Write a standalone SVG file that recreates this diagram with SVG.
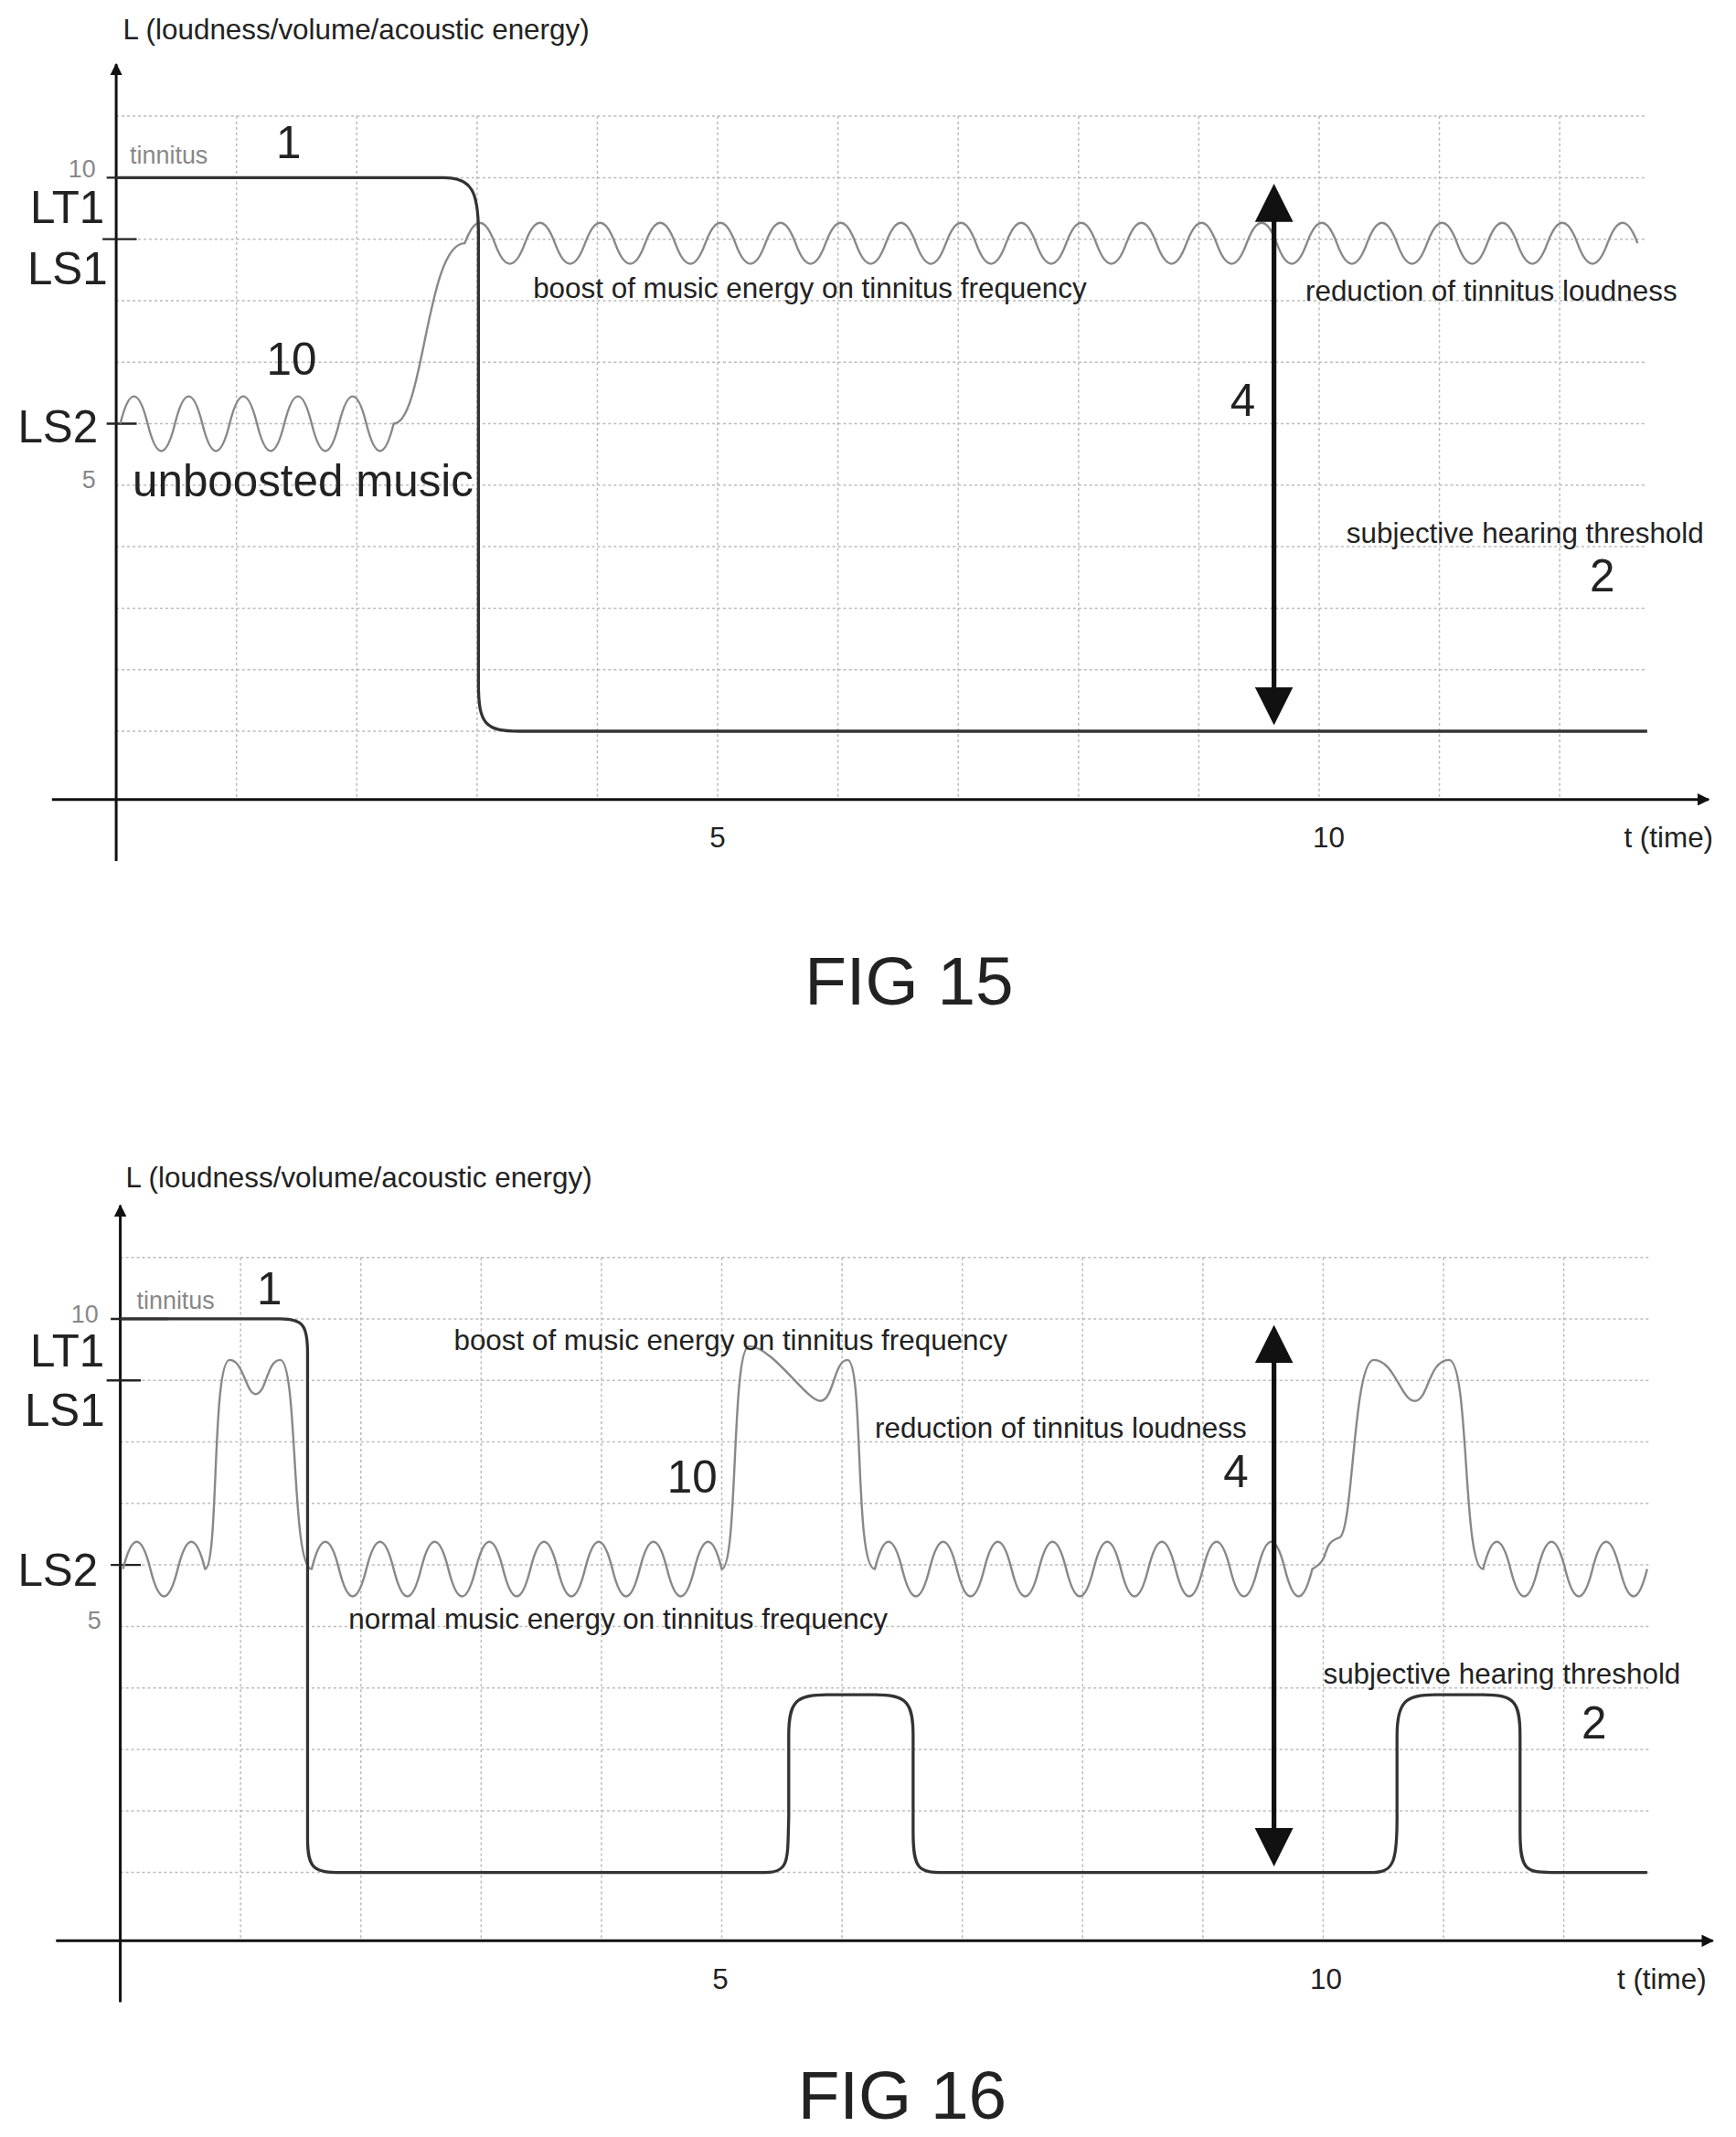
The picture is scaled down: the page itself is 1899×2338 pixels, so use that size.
<svg xmlns="http://www.w3.org/2000/svg" xmlns:xlink="http://www.w3.org/1999/xlink" width="1899" height="2338" viewBox="0 0 1899 2338">
<style>
text{font-family:"Liberation Sans",Arial,sans-serif;fill:#222}
.sm{font-size:21px}
.md{font-size:33px}
.lg{font-size:33px}
.gr{fill:#888;font-size:18px}
.grid line{stroke:#bbb;stroke-width:1;stroke-dasharray:2 2}
.ax{stroke:#111;stroke-width:2;fill:none}
.tin{stroke:#333;stroke-width:2.2;fill:none}
.mus{stroke:#888;stroke-width:1.6;fill:none}
.tick{stroke:#222;stroke-width:1.6}
.dbl{stroke:#111;stroke-width:3.5;marker-start:url(#big);marker-end:url(#big)}
</style>
<defs>
<marker id="ah" viewBox="0 0 10 10" refX="9" refY="5" markerWidth="9" markerHeight="9" markerUnits="userSpaceOnUse" orient="auto-start-reverse"><path d="M0,0 L10,5 L0,10 z" fill="#111"/></marker>
<marker id="big" viewBox="0 0 10 10" refX="8" refY="5" markerWidth="8" markerHeight="8" orient="auto-start-reverse"><path d="M0,0 L10,5 L0,10 z" fill="#111"/></marker>
<g id="grid" class="grid">
<line x1="85" y1="85" x2="1205" y2="85"/><line x1="85" y1="130" x2="1205" y2="130"/><line x1="85" y1="175" x2="1205" y2="175"/><line x1="85" y1="220" x2="1205" y2="220"/><line x1="85" y1="265" x2="1205" y2="265"/><line x1="85" y1="310" x2="1205" y2="310"/><line x1="85" y1="355" x2="1205" y2="355"/><line x1="85" y1="400" x2="1205" y2="400"/><line x1="85" y1="445" x2="1205" y2="445"/><line x1="85" y1="490" x2="1205" y2="490"/><line x1="85" y1="535" x2="1205" y2="535"/>
<line x1="173" y1="85" x2="173" y2="585"/><line x1="261" y1="85" x2="261" y2="585"/><line x1="349" y1="85" x2="349" y2="585"/><line x1="437" y1="85" x2="437" y2="585"/><line x1="525" y1="85" x2="525" y2="585"/><line x1="613" y1="85" x2="613" y2="585"/><line x1="701" y1="85" x2="701" y2="585"/><line x1="789" y1="85" x2="789" y2="585"/><line x1="877" y1="85" x2="877" y2="585"/><line x1="965" y1="85" x2="965" y2="585"/><line x1="1053" y1="85" x2="1053" y2="585"/><line x1="1141" y1="85" x2="1141" y2="585"/>
</g>
<g id="axes">
<line class="ax" x1="85" y1="630" x2="85" y2="47" marker-end="url(#ah)"/>
<line class="ax" x1="38" y1="585" x2="1250" y2="585" marker-end="url(#ah)"/>
<line class="tick" x1="78" y1="130" x2="120" y2="130"/>
<line class="tick" x1="75" y1="175" x2="100" y2="175"/>
<line class="tick" x1="78" y1="310" x2="100" y2="310"/>
</g>
</defs>
<g transform="scale(1.4953)">
<g id="fig15">
<use xlink:href="#grid"/>
<use xlink:href="#axes"/>
<g id="connectors15">
<path class="mus" d="M88,310 q10,-40 20,0 t20,0 t20,0 t20,0 t20,0 t20,0 t20,0 t20,0 t20,0 t20,0 C310,310 312,178 340,178 q11,-30 22,0 t22,0 t22,0 t22,0 t22,0 t22,0 t22,0 t22,0 t22,0 t22,0 t22,0 t22,0 t22,0 t22,0 t22,0 t22,0 t22,0 t22,0 t22,0 t22,0 t22,0 t22,0 t22,0 t22,0 t22,0 t22,0 t22,0 t22,0 t22,0 t22,0 t22,0 t22,0 t22,0 t22,0 t22,0 t22,0 t22,0 t22,0 t22,0"/>
<path class="tin" d="M85,130 L325,130 C345,130 350,140 350,170 L350,500 C350,530 355,535 380,535 L1205,535"/>
<line class="dbl" x1="932" y1="140" x2="932" y2="525"/>
</g>
<text x="90" y="29" class="sm">L (loudness/volume/acoustic energy)</text>
<text x="50" y="130" class="gr">10</text>
<text x="95" y="120" class="gr">tinnitus</text>
<text x="202" y="116" class="lg">1</text>
<text x="22" y="163" class="lg">LT1</text>
<text x="20" y="208" class="lg">LS1</text>
<text x="195" y="274" class="lg">10</text>
<text x="13" y="324" class="lg">LS2</text>
<text x="60" y="357" class="gr">5</text>
<text x="97" y="363" class="md">unboosted music</text>
<text x="390" y="218" class="sm">boost of music energy on tinnitus frequency</text>
<text x="955" y="220" class="sm">reduction of tinnitus loudness</text>
<text x="900" y="304" class="lg">4</text>
<text x="985" y="397" class="sm">subjective hearing threshold</text>
<text x="1163" y="433" class="lg">2</text>
<text x="525" y="620" class="sm" text-anchor="middle">5</text>
<text x="972" y="620" class="sm" text-anchor="middle">10</text>
<text x="1188" y="620" class="sm">t (time)</text>
<text x="665" y="735" font-size="50" text-anchor="middle">FIG 15</text>
</g>
<g id="fig16">
<use xlink:href="#grid" transform="translate(3,835)"/>
<use xlink:href="#axes" transform="translate(3,835)"/>
<g id="connectors16">
<path class="mus" d="M90,1148 q10,-40 20,0 t20,0 t20,0 C160,1148 155,995 168,995 C178,995 180,1020 187,1020 C195,1020 195,995 205,995 C218,995 213,1148 228,1148 q10,-40 20,0 t20,0 t20,0 t20,0 t20,0 t20,0 t20,0 t20,0 t20,0 t20,0 t20,0 t20,0 t20,0 t20,0 t20,0 C540,1148 535,985 548,985 C565,985 590,1025 600,1025 C610,1025 610,995 620,995 C632,995 625,1148 640,1148 q10,-40 20,0 t20,0 t20,0 t20,0 t20,0 t20,0 t20,0 t20,0 t20,0 t20,0 t20,0 t20,0 t20,0 t20,0 t20,0 t20,0 C975,1140 965,1130 980,1125 C990,1120 990,995 1005,995 C1020,995 1025,1025 1035,1025 C1045,1025 1045,995 1060,995 C1075,995 1070,1148 1085,1148 q10,-40 20,0 t20,0 t20,0 t20,0 t20,0 t20,0"/>
<path class="tin" d="M88,965 L205,965 C222,965 225,970 225,990 L225,1345 C225,1368 230,1370 250,1370 L560,1370 C578,1370 576,1360 577,1330 L577,1270 C577,1245 582,1240 605,1240 L640,1240 C663,1240 668,1245 668,1270 L668,1340 C668,1368 672,1370 690,1370 L1005,1370 C1020,1370 1022,1360 1022,1330 L1022,1270 C1022,1245 1028,1240 1050,1240 L1085,1240 C1108,1240 1112,1245 1112,1270 L1112,1340 C1112,1368 1116,1370 1135,1370 L1205,1370"/>
<line class="dbl" x1="932" y1="975" x2="932" y2="1360"/>
</g>
<text x="92" y="869" class="sm">L (loudness/volume/acoustic energy)</text>
<text x="52" y="968" class="gr">10</text>
<text x="100" y="958" class="gr">tinnitus</text>
<text x="188" y="954" class="lg">1</text>
<text x="22" y="1000" class="lg">LT1</text>
<text x="18" y="1043" class="lg">LS1</text>
<text x="13" y="1160" class="lg">LS2</text>
<text x="64" y="1192" class="gr">5</text>
<text x="488" y="1092" class="lg">10</text>
<text x="895" y="1088" class="lg">4</text>
<text x="332" y="988" class="sm">boost of music energy on tinnitus frequency</text>
<text x="640" y="1052" class="sm">reduction of tinnitus loudness</text>
<text x="255" y="1192" class="sm">normal music energy on tinnitus frequency</text>
<text x="968" y="1232" class="sm">subjective hearing threshold</text>
<text x="1157" y="1272" class="lg">2</text>
<text x="527" y="1455" class="sm" text-anchor="middle">5</text>
<text x="970" y="1455" class="sm" text-anchor="middle">10</text>
<text x="1183" y="1455" class="sm">t (time)</text>
<text x="660" y="1550" font-size="50" text-anchor="middle">FIG 16</text>
</g>
</g>
</svg>
